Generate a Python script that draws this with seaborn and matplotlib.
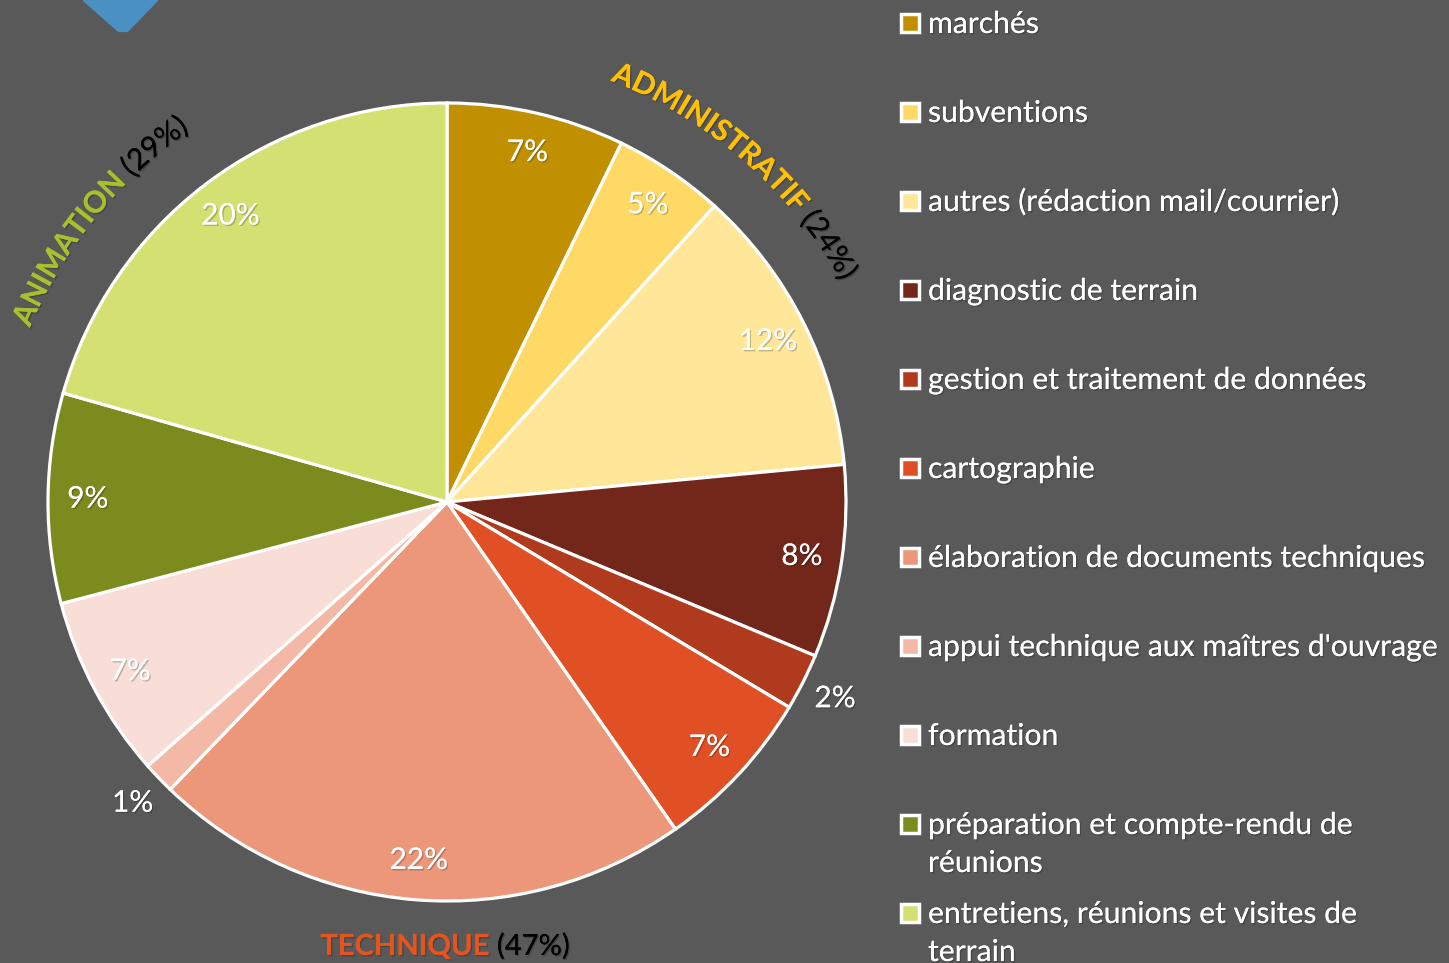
import numpy as np
import matplotlib.pyplot as plt
import matplotlib.patheffects as pe
from matplotlib.patches import Polygon
from matplotlib.font_manager import FontProperties
from matplotlib.textpath import text_to_path
import seaborn as sns

sns.set_style('dark')
plt.rcParams['font.family'] = ['Lato', 'DejaVu Sans']

# données (répartition du temps de travail)
categories = ['marchés', 'subventions', 'autres (rédaction mail/courrier)',
              'diagnostic de terrain', 'gestion et traitement de données',
              'cartographie', 'élaboration de documents techniques',
              "appui technique aux maîtres d'ouvrage", 'formation',
              'préparation et compte-rendu de\nréunions',
              'entretiens, réunions et visites de\nterrain']
parts = [7.2, 4.5, 11.8, 7.8, 2.3, 6.7, 21.9, 1.3, 7.4, 8.5, 20.6]
pct_labels = ['7%', '5%', '12%', '8%', '2%', '7%', '22%', '1%', '7%', '9%', '20%']
colors = ['#C09000', '#FFD966', '#FFE699', '#73261A', '#B03A1E', '#E05024',
          '#EC977A', '#F4B8A6', '#F9DED7', '#7B8B1E', '#D4E072']

groups = ['ADMINISTRATIF', 'TECHNIQUE', 'ANIMATION']
group_pct = ['(24%)', '(47%)', '(29%)']
group_colors = ['#FFC000', '#E3541E', '#A8C02C']

bg = '#595959'
W, H = 1449, 963
cx, cy, R = 447, H - 502, 399
shadow = [pe.withSimplePatchShadow(offset=(1, -1), shadow_rgbFace='black', alpha=0.22),
          pe.Normal()]

fig = plt.figure(figsize=(W / 100, H / 100), dpi=100, facecolor=bg)
ax = fig.add_axes([0, 0, 1, 1])

# petit décor bleu en haut à gauche
ax.add_patch(Polygon([(85, H + 5), (85, H), (119, H - 30), (127, H - 30), (156, H), (156, H + 5)],
                     closed=True, facecolor='#4A90C2', edgecolor='#4A90C2',
                     linewidth=3, joinstyle='round'))

wedges, _ = ax.pie(parts, colors=colors, startangle=90, counterclock=False,
                   center=(cx, cy), radius=R, frame=True,
                   wedgeprops=dict(edgecolor='white', linewidth=2.3))

# pourcentages
for w, lab, v in zip(wedges, pct_labels, parts):
    mid = np.deg2rad((w.theta1 + w.theta2) / 2)
    d = 1.09 if v < 3 else 0.9
    ax.text(cx + d * R * np.cos(mid), cy + d * R * np.sin(mid), lab,
            ha='center', va='center', color='white', fontsize=21.5, path_effects=shadow)


def text_width(s, fp):
    if not s:
        return 0.0
    return text_to_path.get_text_width_height_descent(s, fp, ismath=False)[0] * 100 / 72


def arc_text(pieces, theta_mid, radius, size):
    # place chaque caractère le long d'un arc (sens horaire)
    total = 0.0
    placed = []
    for s, col, wt in pieces:
        fp = FontProperties(family='Lato', weight=wt, size=size)
        for i, ch in enumerate(s):
            a = text_width(s[:i], fp)
            b = text_width(s[:i + 1], fp)
            placed.append((ch, col, wt, total + a + (b - a) / 2))
        total += text_width(s, fp)
    for ch, col, wt, o in placed:
        th = np.deg2rad(theta_mid) + (o - total / 2) / radius
        ax.text(cx + radius * np.sin(th), cy + radius * np.cos(th), ch,
                color=col, fontsize=size, fontweight=wt, ha='center', va='baseline',
                rotation=-np.rad2deg(th), rotation_mode='anchor', path_effects=shadow)


arc_text([(groups[0], group_colors[0], 'bold'), (' ' + group_pct[0], 'black', 'normal')],
         41, 452, 21.5)
arc_text([(groups[2], group_colors[2], 'bold'), (' ' + group_pct[2], 'black', 'normal')],
         -51, 452, 21.5)

# TECHNIQUE en bas, à plat
fpb = FontProperties(family='Lato', weight='bold', size=21)
fpn = FontProperties(family='Lato', weight='normal', size=21)
w1 = text_width(groups[1], fpb)
w2 = text_width(' ' + group_pct[1], fpn)
x0 = 445 - (w1 + w2) / 2
ax.text(x0, H - 955, groups[1], color=group_colors[1], fontsize=21, fontweight='bold',
        ha='left', va='baseline', path_effects=shadow)
ax.text(x0 + w1, H - 955, ' ' + group_pct[1], color='black', fontsize=21,
        ha='left', va='baseline', path_effects=shadow)

# légende
for i, (lab, col) in enumerate(zip(categories, colors)):
    ym = 23 + i * 89
    ax.plot(910, H - ym, marker='s', ms=13, mfc=col, mec='white', mew=2.5)
    for j, line in enumerate(lab.split('\n')):
        ax.text(928, H - (33 + i * 89 + j * 38), line, color='white', fontsize=21.7,
                ha='left', va='baseline', path_effects=shadow)

ax.set_xlim(0, W)
ax.set_ylim(0, H)
ax.set_aspect('equal')
ax.axis('off')

fig.savefig('out.png', dpi=100, facecolor=bg)
